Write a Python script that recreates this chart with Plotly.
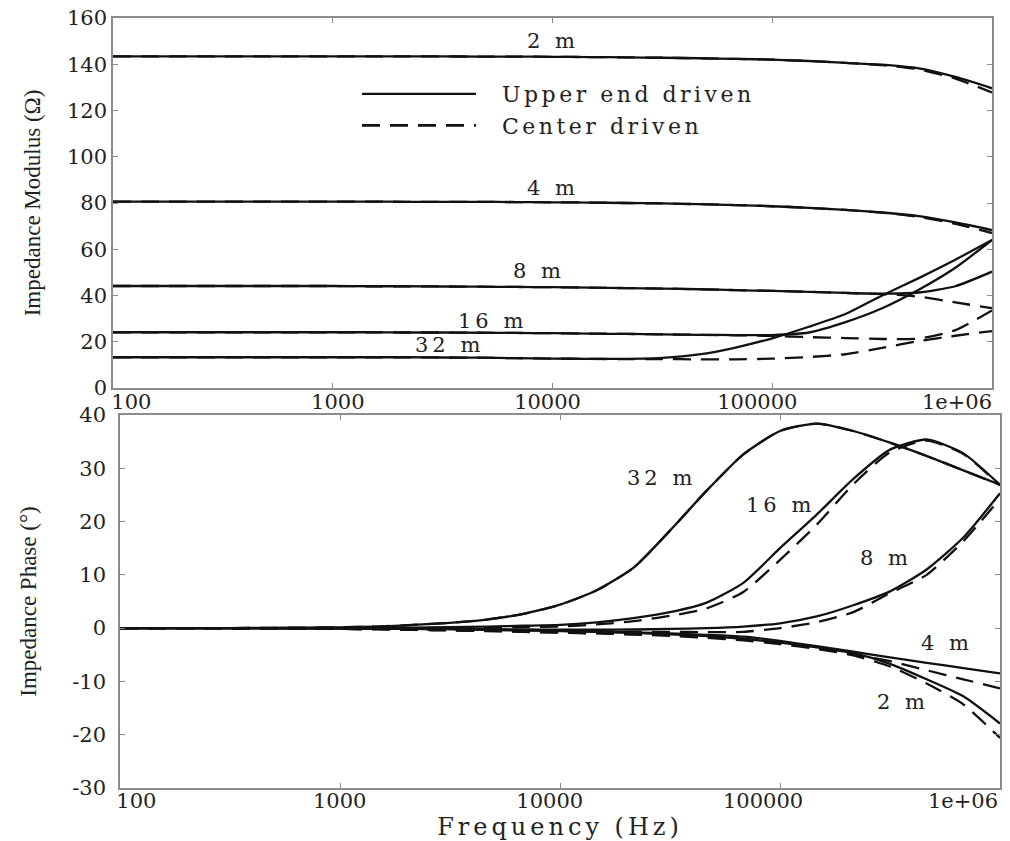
import plotly.graph_objects as go

# Frequency grid (Hz), six points per decade
freq_hz = [100, 147, 215, 316, 464, 681, 1000, 1468, 2154, 3162, 4642, 6813,
           10000, 14678, 21544, 31623, 46416, 68129, 100000, 146780, 215443,
           316228, 464159, 681292, 1000000]

# Impedance modulus (ohm) - upper end driven
mod_2m_upper = [143.4, 143.4, 143.4, 143.4, 143.4, 143.4, 143.4, 143.4, 143.4, 143.4, 143.3, 143.3,
                143.2, 143.1, 143.0, 142.8, 142.6, 142.3, 142.0, 141.4, 140.6, 139.8, 138.2, 134.5, 129.6]
mod_4m_upper = [80.6, 80.6, 80.6, 80.6, 80.6, 80.6, 80.6, 80.6, 80.5, 80.5, 80.5, 80.4,
                80.3, 80.2, 80.0, 79.8, 79.5, 79.1, 78.6, 77.9, 77.0, 75.9, 74.3, 71.6, 68.3]
mod_8m_upper = [44.1, 44.1, 44.1, 44.1, 44.1, 44.1, 44.1, 44.0, 44.0, 43.9, 43.8, 43.7,
                43.6, 43.4, 43.2, 43.0, 42.7, 42.3, 42.0, 41.6, 41.1, 40.8, 41.3, 44.0, 50.3]
mod_16m_upper = [24.1, 24.1, 24.1, 24.1, 24.1, 24.1, 24.1, 24.1, 24.0, 24.0, 23.9, 23.8,
                 23.7, 23.5, 23.4, 23.2, 23.0, 22.9, 22.9, 24.0, 28.5, 34.5, 42.5, 52.0, 64.0]
mod_32m_upper = [13.3, 13.3, 13.3, 13.3, 13.3, 13.3, 13.3, 13.3, 13.3, 13.2, 13.1, 12.9,
                 12.7, 12.6, 12.6, 13.0, 14.5, 17.5, 21.5, 26.5, 32.0, 40.0, 47.5, 55.5, 64.0]

# Impedance modulus (ohm) - center driven
mod_2m_center = [143.4, 143.4, 143.4, 143.4, 143.4, 143.4, 143.4, 143.4, 143.4, 143.4, 143.3, 143.3,
                 143.2, 143.1, 143.0, 142.8, 142.6, 142.3, 142.0, 141.4, 140.6, 139.6, 137.8, 133.8, 127.8]
mod_4m_center = [80.6, 80.6, 80.6, 80.6, 80.6, 80.6, 80.6, 80.6, 80.5, 80.5, 80.5, 80.4,
                 80.3, 80.2, 80.0, 79.8, 79.5, 79.1, 78.6, 77.9, 77.0, 75.8, 74.0, 71.0, 67.0]
mod_8m_center = [44.1, 44.1, 44.1, 44.1, 44.1, 44.1, 44.1, 44.0, 44.0, 43.9, 43.8, 43.7,
                 43.6, 43.4, 43.2, 43.0, 42.7, 42.3, 42.0, 41.6, 41.1, 40.6, 39.5, 37.0, 34.5]
mod_16m_center = [24.1, 24.1, 24.1, 24.1, 24.1, 24.1, 24.1, 24.1, 24.0, 24.0, 23.9, 23.8,
                  23.7, 23.5, 23.4, 23.2, 23.0, 22.8, 22.5, 22.0, 21.6, 21.2, 21.4, 25.0, 33.5]
mod_32m_center = [13.3, 13.3, 13.3, 13.3, 13.3, 13.3, 13.3, 13.3, 13.3, 13.2, 13.1, 12.9,
                  12.7, 12.6, 12.5, 12.5, 12.4, 12.4, 12.7, 13.4, 14.6, 17.3, 20.3, 22.6, 24.6]

# Impedance phase (degrees) - upper end driven
ph_2m_upper = [0, 0, 0, 0, -0.02, -0.04, -0.06, -0.1, -0.15, -0.2, -0.3, -0.4,
               -0.55, -0.7, -0.9, -1.15, -1.5, -2.0, -2.7, -3.6, -4.7, -6.7, -9.6, -12.8, -17.9]
ph_4m_upper = [0, 0, 0, 0, -0.02, -0.04, -0.06, -0.1, -0.15, -0.2, -0.3, -0.4,
               -0.5, -0.65, -0.8, -1.0, -1.25, -1.6, -2.4, -3.4, -4.4, -5.5, -6.5, -7.5, -8.5]
ph_8m_upper = [0, 0, 0, 0, 0, 0, -0.05, -0.1, -0.1, -0.15, -0.2, -0.25,
               -0.3, -0.3, -0.25, -0.15, 0.0, 0.3, 0.9, 2.2, 4.3, 6.9, 11.0, 17.0, 25.3]
ph_16m_upper = [0, 0, 0, 0, 0, 0, 0, 0.05, 0.1, 0.2, 0.3, 0.45,
                0.6, 1.1, 1.9, 3.0, 4.8, 8.5, 15.0, 21.3, 28.0, 33.5, 35.4, 32.8, 26.9]
ph_32m_upper = [0, 0, 0, 0, 0.05, 0.1, 0.15, 0.3, 0.6, 1.0, 1.6, 2.7,
                4.4, 7.1, 11.3, 18.3, 25.8, 32.6, 37.0, 38.4, 37.0, 34.8, 32.3, 29.6, 26.9]

# Impedance phase (degrees) - center driven
ph_2m_center = [0, 0, 0, -0.02, -0.05, -0.1, -0.15, -0.2, -0.3, -0.4, -0.55, -0.7,
                -0.85, -1.0, -1.2, -1.45, -1.8, -2.3, -3.0, -3.9, -5.1, -7.2, -10.4, -14.3, -20.6]
ph_4m_center = [0, 0, 0, -0.02, -0.05, -0.1, -0.15, -0.2, -0.3, -0.4, -0.5, -0.65,
                -0.8, -0.95, -1.1, -1.3, -1.6, -2.0, -2.7, -3.7, -4.9, -6.2, -7.9, -9.6, -11.3]
ph_8m_center = [0, 0, 0, 0, -0.05, -0.1, -0.15, -0.2, -0.3, -0.4, -0.5, -0.55,
                -0.6, -0.65, -0.7, -0.7, -0.75, -0.7, 0.0, 1.1, 3.0, 6.6, 10.0, 16.3, 24.3]
ph_16m_center = [0, 0, 0, 0, 0, 0, 0, 0, 0, 0.05, 0.1, 0.2,
                 0.3, 0.7, 1.3, 2.3, 3.7, 6.8, 12.8, 19.4, 27.0, 33.0, 35.2, 32.7, 26.8]
ph_32m_center = [0, 0, 0, 0, 0.05, 0.1, 0.15, 0.3, 0.6, 1.0, 1.6, 2.7,
                 4.4, 7.1, 11.3, 18.3, 25.8, 32.6, 37.0, 38.4, 37.0, 34.8, 32.3, 29.6, 26.9]

freq_tick_vals = [100, 1000, 10000, 100000, 1000000]
freq_tick_text = ["100", "1000", "10000", "100000", "1e+06"]
mod_tick_vals = [0, 20, 40, 60, 80, 100, 120, 140, 160]
mod_tick_text = ["0", "20", "40", "60", "80", "100", "120", "140", "160"]
ph_tick_vals = [-30, -20, -10, 0, 10, 20, 30, 40]
ph_tick_text = ["-30", "-20", "-10", "0", "10", "20", "30", "40"]

modulus_center = [mod_2m_center, mod_4m_center, mod_8m_center, mod_16m_center, mod_32m_center]
modulus_upper = [mod_2m_upper, mod_4m_upper, mod_8m_upper, mod_16m_upper, mod_32m_upper]
phase_center = [ph_2m_center, ph_4m_center, ph_8m_center, ph_16m_center, ph_32m_center]
phase_upper = [ph_2m_upper, ph_4m_upper, ph_8m_upper, ph_16m_upper, ph_32m_upper]

INK = "#111111"
TEXT = "#222222"
AXIS = "#8c8c8c"
SOLID = dict(color=INK, width=2.3, shape="spline", smoothing=0.6)
DASHED = dict(color=INK, width=2.3, dash="18px,10px", shape="spline", smoothing=0.6)
NBSP = "\u00a0"


def lead(labels, pads):
    """Prefix tick labels with no-break spaces to nudge the visible text rightwards."""
    return [NBSP * p + lab for lab, p in zip(labels, pads)]


def wide(text, spacing=2):
    return f'<span style="letter-spacing:{spacing}px">{text}</span>'


fig = go.Figure()

# center driven drawn first so the solid curves sit on top
for ys in modulus_center:
    fig.add_trace(go.Scatter(x=freq_hz, y=ys, mode="lines", line=DASHED,
                             showlegend=False, hoverinfo="skip", xaxis="x", yaxis="y"))
for ys in modulus_upper:
    fig.add_trace(go.Scatter(x=freq_hz, y=ys, mode="lines", line=SOLID,
                             showlegend=False, hoverinfo="skip", xaxis="x", yaxis="y"))
for ys in phase_center:
    fig.add_trace(go.Scatter(x=freq_hz, y=ys, mode="lines", line=DASHED,
                             showlegend=False, hoverinfo="skip", xaxis="x2", yaxis="y2"))
for ys in phase_upper:
    fig.add_trace(go.Scatter(x=freq_hz, y=ys, mode="lines", line=SOLID,
                             showlegend=False, hoverinfo="skip", xaxis="x2", yaxis="y2"))

# legend entries
fig.add_trace(go.Scatter(x=[None], y=[None], mode="lines", line=dict(color=INK, width=2.3),
                         name=NBSP * 3 + wide("Upper end driven", 3.5), xaxis="x", yaxis="y"))
fig.add_trace(go.Scatter(x=[None], y=[None], mode="lines",
                         line=dict(color=INK, width=2.6, dash="18px,10px"),
                         name=NBSP * 3 + wide("Center driven", 3.5), xaxis="x", yaxis="y"))

label_font = dict(family="DejaVu Serif", size=21, color=TEXT)
tick_font = dict(family="DejaVu Serif", size=21, color=TEXT)

# curve labels (x given as log10 of frequency)
top_labels = [("2 m", 4.0, 150.1), ("4 m", 4.0, 86.5), ("8 m", 3.94, 50.6),
              ("16 m", 3.725, 29.0), ("32 m", 3.53, 18.6)]
bottom_labels = [("32 m", 4.46, 28.2), ("16 m", 5.0, 23.1), ("8 m", 5.48, 13.2),
                 ("4 m", 5.76, -2.8), ("2 m", 5.56, -13.9)]
for txt, lx, ly in top_labels:
    fig.add_annotation(x=lx, y=ly, xref="x", yref="y", text=wide(txt, 4), showarrow=False,
                       font=label_font)
for txt, lx, ly in bottom_labels:
    fig.add_annotation(x=lx, y=ly, xref="x2", yref="y2", text=wide(txt, 4), showarrow=False,
                       font=label_font)

common_axis = dict(showline=True, linecolor=AXIS, linewidth=1.5, mirror="ticks",
                   ticks="inside", ticklen=5, tickcolor=AXIS, tickwidth=1,
                   showgrid=False, zeroline=False, tickfont=tick_font,
                   automargin=False)

W, H = 1010, 841
fig.update_layout(
    width=W, height=H,
    margin=dict(l=0, r=0, t=0, b=0, autoexpand=False),
    paper_bgcolor="white", plot_bgcolor="white",
    xaxis=dict(type="log", range=[2, 6], domain=[113 / W, 992 / W], anchor="y",
               tickvals=freq_tick_vals,
               ticktext=lead(freq_tick_text, [16, 12, 9, 6, 0]),
               ticklabelshift=-35, ticklabelstandoff=-6, **common_axis),
    yaxis=dict(range=[0, 160], domain=[(H - 388) / H, (H - 18) / H], anchor="x",
               tickvals=mod_tick_vals, ticktext=mod_tick_text,
               title=dict(text="Impedance Modulus (Ω)", standoff=20,
                          font=dict(family="Liberation Serif", size=23, color=TEXT)),
               **common_axis),
    xaxis2=dict(type="log", range=[2, 6], domain=[120 / W, 1000 / W], anchor="y2",
                tickvals=freq_tick_vals,
                ticktext=lead(freq_tick_text, [16, 11, 8, 6, 0]),
                ticklabelshift=-37, ticklabelstandoff=-7,
                title=dict(text=wide("Frequency (Hz)", 4), standoff=8,
                           font=dict(family="DejaVu Serif", size=24, color=TEXT)),
                **common_axis),
    yaxis2=dict(range=[-30, 40], domain=[(H - 788) / H, (H - 415) / H], anchor="x2",
                tickvals=ph_tick_vals, ticktext=ph_tick_text, ticklabelstandoff=8,
                title=dict(text="Impedance Phase (°)", standoff=29,
                           font=dict(family="Liberation Serif", size=23, color=TEXT)),
                **common_axis),
    legend=dict(x=357 / W, y=(H - 73) / H, xanchor="left", yanchor="top",
                bgcolor="rgba(0,0,0,0)", itemwidth=114, tracegroupgap=0,
                font=dict(family="DejaVu Serif", size=22, color=TEXT)),
)

fig.write_html("out.html")
